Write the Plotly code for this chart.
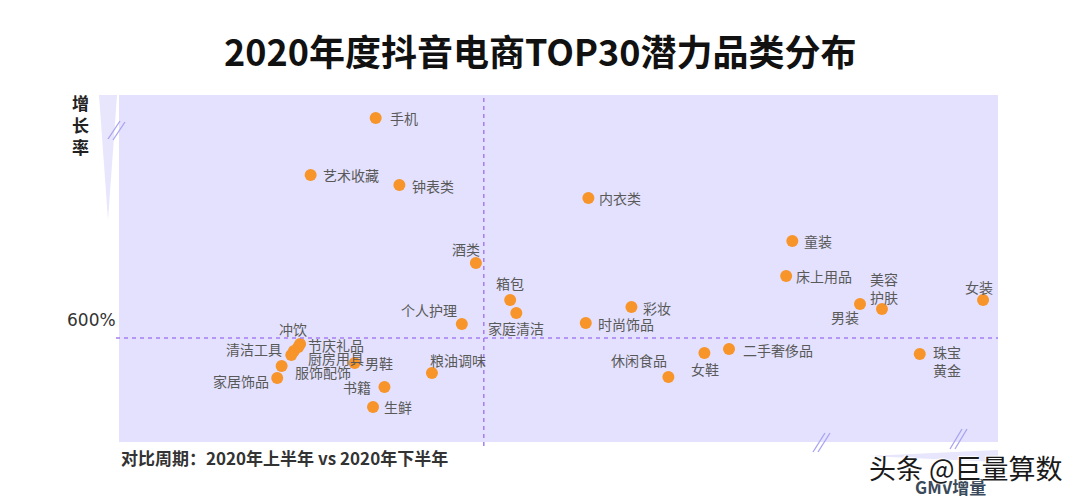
import plotly.graph_objects as go

# ---------------- data ----------------
categories = ["手机", "艺术收藏", "钟表类", "内衣类", "童装", "床上用品", "酒类", "箱包",
              "家庭清洁", "彩妆", "男装", "美容<br>护肤", "女装", "个人护理", "时尚饰品",
              "冲饮", "节庆礼品", "清洁工具", "厨房用具", "服饰配饰", "家居饰品",
              "男鞋", "书籍", "生鲜", "粮油调味", "休闲食品", "女鞋", "二手奢侈品", "珠宝<br>黄金"]
# relative GMV increment (index, 0-100)
gmv_increment = [29.2, 21.8, 31.9, 53.4, 76.6, 75.9, 40.6, 44.5,
                 45.2, 58.3, 84.3, 86.8, 98.3, 39.0, 53.1,
                 20.6, 20.4, 19.9, 19.6, 18.5, 18.0,
                 26.8, 30.2, 28.9, 35.6, 62.5, 66.6, 69.4, 91.1]
# growth rate (%)
growth_rate = [1867, 1539, 1481, 1406, 1158, 957, 1032, 818,
               743, 778, 795, 767, 818, 680, 686,
               565, 548, 524, 501, 438, 369,
               455, 317, 202, 398, 375, 513, 536, 507]
gmv_reference = 41.5
growth_reference = 600
growth_tick_label = "600%"

# label placement styles (xanchor, dx px, dy px)
label_style = [("left", 12, 0), ("left", 10, 0), ("left", 11, -1), ("left", 9, 0),
               ("left", 10, 0), ("left", 8, 0), ("center", -10, 14), ("center", 0, 17),
               ("center", 0, -15), ("left", 10, -1), ("center", -15, -13), ("center", 2, 21),
               ("center", -4, 13), ("right", -3, 14), ("left", 10, -1),
               ("center", -7, 15), ("left", 8, 2), ("right", -10, 2), ("left", 15, -3),
               ("left", 11, -6), ("right", -6, -3),
               ("left", 8, 0), ("right", -11, 0), ("left", 9, 0), ("left", -4, 13),
               ("right", 1, 17), ("center", 1, -16), ("left", 12, -1), ("left", 11, -7)]

FONT = "Noto Sans CJK SC"
L, R, T, B = 119, 998, 95, 442  # plot area in px


def px(xp):
    return (xp - L) / (R - L)


def py(yp):
    return (B - yp) / (B - T)


fig = go.Figure()
fig.add_trace(go.Scatter(
    x=gmv_increment, y=growth_rate, mode="markers",
    marker=dict(size=12, color="#f7942a", line=dict(width=0)),
    hoverinfo="skip", showlegend=False,
))

annotations = []
for cat, xv, yv, (anc, dx, dy) in zip(categories, gmv_increment, growth_rate, label_style):
    annotations.append(dict(
        x=xv, y=yv, xref="x", yref="y", text=cat, showarrow=False,
        xanchor=anc, yanchor="middle", xshift=dx, yshift=dy,
        font=dict(family=FONT, size=14, color="#595959"), align="left",
    ))

# texts
annotations += [
    dict(x=px(540), y=py(50), xref="paper", yref="paper", text="2020年度抖音电商TOP30潜力品类分布",
         showarrow=False, xanchor="center", yanchor="middle",
         font=dict(family=FONT, size=36, color="#111111", weight="bold")),
    dict(x=px(80), y=py(124), xref="paper", yref="paper", text="增<br>长<br>率", showarrow=False,
         xanchor="center", yanchor="middle",
         font=dict(family=FONT, size=17, color="#222222", weight="bold")),
    dict(x=px(118), y=growth_reference, xref="paper", yref="y", text=growth_tick_label, showarrow=False,
         xanchor="right", yanchor="middle", yshift=18,
         font=dict(family="DejaVu Sans", size=17, color="#333333")),
    dict(x=px(119), y=py(457), xref="paper", yref="paper",
         text="对比周期：2020年上半年 vs 2020年下半年", showarrow=False,
         xanchor="left", yanchor="middle",
         font=dict(family=FONT, size=17, color="#333333", weight="bold")),
    dict(x=px(950), y=py(486), xref="paper", yref="paper", text="GMV增量", showarrow=False,
         xanchor="center", yanchor="middle",
         font=dict(family=FONT, size=17, color="#3a4a5a", weight="bold")),
    dict(x=px(966), y=py(467), xref="paper", yref="paper", text="头条 @巨量算数", showarrow=False,
         xanchor="center", yanchor="middle",
         font=dict(family=FONT, size=27, color="#1a1a1a",
                   shadow="1px 1px 1px #ffffff, -1px -1px 1px #ffffff")),
]

shapes = [
    # left wedge
    dict(type="path", xref="paper", yref="paper",
         path=f"M {px(99)} {py(95)} L {px(117)} {py(95)} L {px(108)} {py(220)} Z",
         fillcolor="#e7e6fc", line=dict(width=0), layer="below"),
    # bottom-right wedge
    dict(type="path", xref="paper", yref="paper",
         path=f"M {px(868)} {py(456)} L {px(998)} {py(450)} L {px(998)} {py(462)} Z",
         fillcolor="#e7e6fc", line=dict(width=0), layer="below"),
    # reference lines
    dict(type="line", xref="paper", yref="y", x0=px(116), x1=1, y0=growth_reference, y1=growth_reference,
         line=dict(color="#a77cf2", width=1.5, dash="4px,4px")),
    dict(type="line", xref="x", yref="paper", x0=gmv_reference, x1=gmv_reference, y0=py(446), y1=1,
         line=dict(color="#a77cf2", width=1.5, dash="4px,4px")),
]
# axis break marks
for (x0, y0, x1, y1) in [(108, 139, 120, 121), (113, 140, 125, 122),
                         (813, 452, 825, 433), (818, 452, 830, 433),
                         (950, 449, 962, 429), (955, 449, 967, 429)]:
    shapes.append(dict(type="line", xref="paper", yref="paper",
                       x0=px(x0), y0=py(y0), x1=px(x1), y1=py(y1),
                       line=dict(color="#a8a2f2", width=1.3)))

fig.update_layout(
    width=1080, height=500,
    margin=dict(l=L, r=1080 - R, t=T, b=500 - B),
    paper_bgcolor="white", plot_bgcolor="#e3e1fd",
    xaxis=dict(range=[0, 100], showgrid=False, zeroline=False, showticklabels=False,
               showline=False, fixedrange=True),
    yaxis=dict(range=[0, 2000], showgrid=False, zeroline=False, showticklabels=False,
               showline=False, fixedrange=True),
    annotations=annotations, shapes=shapes, showlegend=False,
    font=dict(family=FONT),
)

fig.write_html("out.html", config=dict(displayModeBar=False),
               post_script="document.body.style.margin='0px';document.body.style.overflow='hidden';")
